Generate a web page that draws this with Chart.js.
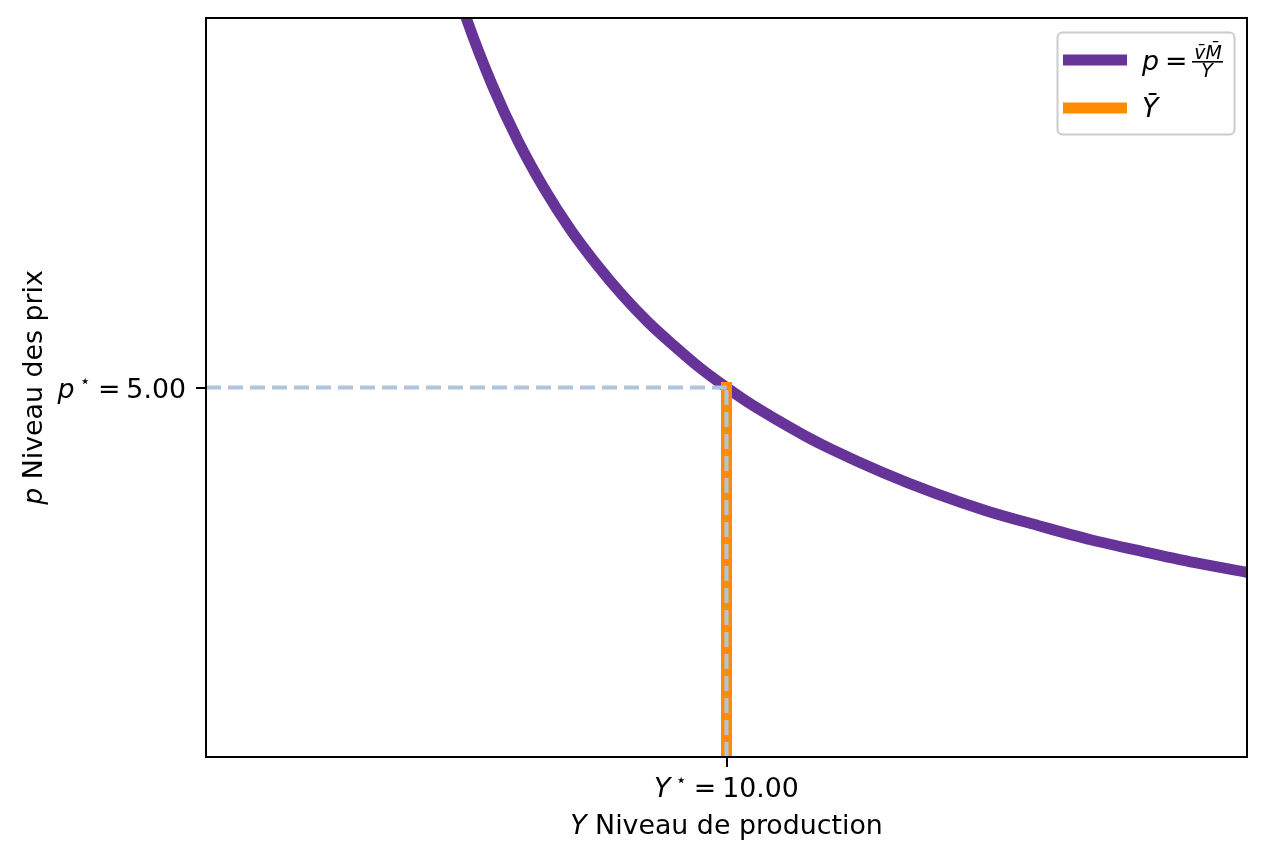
<!DOCTYPE html>
<html>
<head>
<meta charset="utf-8">
<script src="https://cdn.jsdelivr.net/npm/chart.js@4.4.1/dist/chart.umd.min.js"></script>
<style>
  html, body { margin: 0; background: #fff; }
  #wrap { width: 1266px; height: 861px; position: relative; }
</style>
</head>
<body>
<div id="wrap"><canvas id="chart"></canvas></div>
<script>
// demand curve p = vM / Y
const outputY = [4, 4.5, 5, 5.5, 6, 6.5, 7, 7.5, 8, 8.5, 9, 9.5, 10, 10.5, 11, 11.5, 12, 13, 14, 15, 16, 17, 18, 19, 20];
const priceP = [12.5, 11.11, 10, 9.09, 8.33, 7.69, 7.14, 6.67, 6.25, 5.88, 5.56, 5.26, 5, 4.76, 4.55, 4.35, 4.17, 3.85, 3.57, 3.33, 3.13, 2.94, 2.78, 2.63, 2.5];

// equilibrium
const yStar = [10];
const pStar = [5];

// axis ranges
const xRange = [0, 20];
const yRange = [0, 10];

const PURPLE = "#663399";
const ORANGE = "#ff8c00";
const STEEL = "#b0c4de";
const FONT = "DejaVu Sans";
const FS = 26.8;

const curve = outputY.map((y, i) => ({ x: y, y: priceP[i] }));
const outputLine = [{ x: yStar[0], y: yRange[0] }, { x: yStar[0], y: pStar[0] }];
const dashH = [{ x: xRange[0], y: pStar[0] }, { x: yStar[0], y: pStar[0] }];
const dashV = [{ x: yStar[0], y: yRange[0] }, { x: yStar[0], y: pStar[0] }];

// draw a row of text pieces with different fonts, {gap} adds space
function drawRuns(ctx, runs, x, y, align) {
  let total = 0;
  runs.forEach(r => {
    if (r.t) { ctx.font = r.font; r.w = ctx.measureText(r.t).width; } else r.w = r.gap;
    total += r.w;
  });
  let cx = x;
  if (align === "center") cx = x - total / 2;
  if (align === "right") cx = x - total;
  runs.forEach(r => {
    if (r.t) {
      ctx.font = r.font;
      ctx.fillText(r.t, cx, y + (r.dy || 0));
    }
    cx += r.w;
  });
}

const reg = FS + "px '" + FONT + "'";
const ita = "italic " + FS + "px '" + FONT + "'";
const star = "18px '" + FONT + "'";
const smallIta = "italic 19px '" + FONT + "'";

function starLabel(letter, value) {
  return [
    { t: letter, font: ita },
    { gap: 5 },
    { t: "\u22c6", font: star, dy: -11 },
    { gap: 7 },
    { t: "=", font: reg },
    { gap: 6 },
    { t: value.toFixed(2), font: reg }
  ];
}

const textPlugin = {
  id: "texts",
  afterDatasetsDraw(chart) {
    const { ctx, chartArea: a } = chart;
    ctx.save();
    ctx.strokeStyle = "#000";
    ctx.lineWidth = 2;
    ctx.strokeRect(a.left, a.top, a.right - a.left, a.bottom - a.top);
    ctx.restore();
  },
  afterDraw(chart) {
    const { ctx, chartArea: a, scales } = chart;
    const xs = scales.x, ys = scales.y;
    ctx.save();
    ctx.fillStyle = "#000";
    ctx.textBaseline = "alphabetic";

    // tick labels
    drawRuns(ctx, starLabel("Y", yStar[0]), xs.getPixelForValue(yStar[0]), a.bottom + 40, "center");
    drawRuns(ctx, starLabel("p", pStar[0]), a.left - 20, ys.getPixelForValue(pStar[0]) + 10, "right");

    // axis titles
    drawRuns(ctx, [
      { t: "Y", font: ita },
      { t: " Niveau de production", font: reg }
    ], (a.left + a.right) / 2, a.bottom + 77, "center");

    ctx.save();
    ctx.translate(42, (a.top + a.bottom) / 2);
    ctx.rotate(-Math.PI / 2);
    drawRuns(ctx, [
      { t: "p", font: ita },
      { t: " Niveau des prix", font: reg }
    ], 0, 0, "center");
    ctx.restore();

    // legend
    const lx = a.right - 190, ly = a.top + 14;
    ctx.beginPath();
    ctx.roundRect(lx + 0.5, ly + 0.5, 177, 102, 5);
    ctx.fillStyle = "rgba(255,255,255,0.8)";
    ctx.fill();
    ctx.strokeStyle = "#cccccc";
    ctx.lineWidth = 2;
    ctx.stroke();

    ctx.lineWidth = 11;
    ctx.lineCap = "butt";
    ctx.strokeStyle = PURPLE;
    ctx.beginPath(); ctx.moveTo(lx + 6, ly + 28); ctx.lineTo(lx + 70, ly + 28); ctx.stroke();
    ctx.strokeStyle = ORANGE;
    ctx.beginPath(); ctx.moveTo(lx + 6, ly + 76); ctx.lineTo(lx + 70, ly + 76); ctx.stroke();

    ctx.fillStyle = "#000";
    drawRuns(ctx, [
      { t: "p", font: ita },
      { gap: 6 },
      { t: "=", font: reg }
    ], lx + 85, ly + 38, "left");
    // fraction vM / Y
    const fx = lx + 135;
    ctx.font = smallIta;
    ctx.textAlign = "center";
    ctx.fillText("v\u0304M\u0304", fx + 16, ly + 27);
    ctx.fillText("Y", fx + 15, ly + 45);
    ctx.textAlign = "left";
    ctx.fillRect(fx, ly + 29, 31, 1.6);

    drawRuns(ctx, [{ t: "Y\u0304", font: ita }], lx + 85, ly + 85, "left");
    ctx.restore();
  }
};

const axisStyle = {
  grid: { drawOnChartArea: false, drawTicks: true, tickLength: 10, color: "#000", lineWidth: 2 },
  border: { display: true, color: "#000", width: 2 },
  ticks: { display: false }
};

new Chart(document.getElementById("chart"), {
  type: "line",
  data: {
    datasets: [
      { data: dashH, borderColor: STEEL, borderWidth: 4, borderDash: [15, 7], pointRadius: 0, order: 0, clip: 0 },
      { data: dashV, borderColor: STEEL, borderWidth: 4, borderDash: [15, 7], pointRadius: 0, order: 0, clip: 0 },
      { data: outputLine, borderColor: ORANGE, borderWidth: 11, borderCapStyle: "square", pointRadius: 0, order: 1, clip: 0 },
      { data: curve, borderColor: PURPLE, borderWidth: 11, borderCapStyle: "square", cubicInterpolationMode: "monotone", pointRadius: 0, order: 2, clip: 0 }
    ]
  },
  options: {
    responsive: true,
    maintainAspectRatio: false,
    animation: false,
    layout: { padding: { top: 18, right: 19, left: 0, bottom: 0 } },
    plugins: { legend: { display: false }, tooltip: { enabled: false } },
    scales: {
      x: {
        type: "linear", min: xRange[0], max: xRange[1], ...axisStyle,
        afterBuildTicks: s => { s.ticks = yStar.map(v => ({ value: v })); },
        afterFit: s => { s.height = 104; }
      },
      y: {
        type: "linear", min: yRange[0], max: yRange[1], ...axisStyle,
        afterBuildTicks: s => { s.ticks = pStar.map(v => ({ value: v })); },
        afterFit: s => { s.width = 206; }
      }
    }
  },
  plugins: [textPlugin]
});
</script>
</body>
</html>
